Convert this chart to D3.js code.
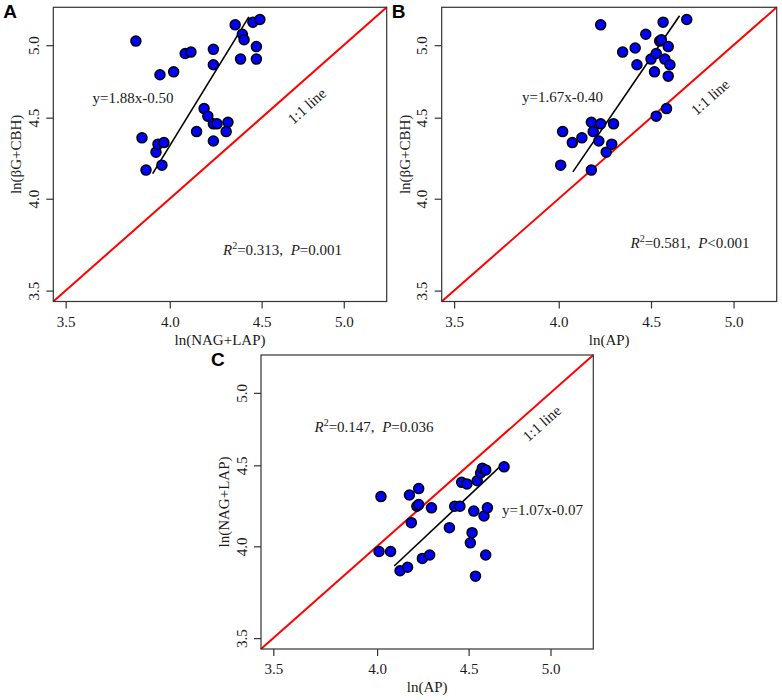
<!DOCTYPE html>
<html lang="en">
<head>
  <meta charset="UTF-8">
  <title>Enzyme ratio scatter plots</title>
  <script src="https://d3js.org/d3.v7.min.js"></script>
  <style>
    body {
      margin: 0;
      background: #fff;
    }
    svg text {
      font-family: "Liberation Serif", "Times New Roman", serif;
      fill: #1a1a1a;
    }
    .panel-letter {
      font-family: "Liberation Sans", Arial, sans-serif !important;
      font-weight: bold;
      font-size: 19px;
      fill: #000;
    }
    .point {
      fill: #0000ff;
      stroke: #000;
      stroke-width: 1.5;
    }
  </style>
</head>
<body>

  <svg width="782" height="700"></svg>

  <script>
    // axis limits (log axes, as in the original R plot) and tick values
    const axisLimits = [3.5, 5.2];
    const tickValues = [3.5, 4.0, 4.5, 5.0];

    // Panel A: ln(NAG+LAP) vs ln(BG+CBH)
    const nagLapA = [3.83, 3.86, 3.88, 3.93, 3.94, 3.97, 3.96, 3.95, 4.02, 4.08, 4.11, 4.23, 4.23, 4.14,
                     4.18, 4.20, 4.23, 4.25, 4.23, 4.31, 4.30, 4.35, 4.39, 4.40, 4.38, 4.45, 4.49, 4.47, 4.47];
    const bgCbhA  = [5.03, 4.37, 4.17, 4.28, 4.33, 4.34, 4.20, 4.79, 4.81, 4.94, 4.95, 4.97, 4.86, 4.41,
                     4.56, 4.51, 4.46, 4.46, 4.35, 4.47, 4.41, 5.15, 5.08, 5.04, 4.90, 5.17, 5.19, 4.99, 4.90];
    const fitA = [[3.913, 4.149], [4.427, 5.21]];

    // Panel B: ln(AP) vs ln(BG+CBH)
    const apB    = [4.22, 4.02, 4.01, 4.07, 4.12, 4.17, 4.17, 4.18, 4.21, 4.22, 4.25, 4.28, 4.29, 4.34, 4.41,
                    4.42, 4.47, 4.50, 4.52, 4.53, 4.55, 4.56, 4.58, 4.60, 4.61, 4.60, 4.57, 4.71, 4.53, 4.59];
    const bgCbhB = [5.15, 4.41, 4.20, 4.34, 4.37, 4.17, 4.47, 4.41, 4.35, 4.46, 4.28, 4.33, 4.46, 4.95, 4.98,
                    4.86, 5.08, 4.90, 4.81, 4.94, 5.03, 5.04, 4.90, 4.99, 4.86, 4.78, 5.17, 5.19, 4.51, 4.56];
    const fitB = [[4.073, 4.159], [4.667, 5.219]];

    // Panel C: ln(AP) vs ln(NAG+LAP)
    const apC     = [4.02, 4.01, 4.07, 4.12, 4.16, 4.17, 4.18, 4.21, 4.22, 4.22, 4.24, 4.28, 4.29, 4.39, 4.42,
                     4.45, 4.46, 4.49, 4.51, 4.53, 4.52, 4.54, 4.55, 4.57, 4.58, 4.60, 4.59, 4.61, 4.60, 4.71];
    const nagLapC = [4.30, 3.97, 3.97, 3.86, 3.88, 4.31, 4.14, 4.24, 4.25, 4.35, 3.93, 3.95, 4.23, 4.11, 4.24,
                     4.24, 4.39, 4.38, 4.02, 4.21, 4.08, 3.83, 4.40, 4.45, 4.48, 4.47, 4.18, 4.23, 3.95, 4.49];
    const fitC = [[4.089, 3.887], [4.682, 4.488]];

    const panels = [
      { letter: "A", xs: nagLapA, ys: bgCbhA, fit: fitA,
        xTitle: "ln(NAG+LAP)", yTitle: "ln(\u03b2G+CBH)",
        eq: "y=1.88x-0.50", r2: "0.313", p: "P", pVal: "=0.001",
        box: { left: 53.3, top: 7.3, right: 386.7, bottom: 301.5 },
        eqPos: [133, 103], r2Pos: [282.5, 255], linePos: [306.7, 106] },
      { letter: "B", xs: apB, ys: bgCbhB, fit: fitB,
        xTitle: "ln(AP)", yTitle: "ln(\u03b2G+CBH)",
        eq: "y=1.67x-0.40", r2: "0.581", p: "P", pVal: "<0.001",
        box: { left: 441.7, top: 7.3, right: 776.7, bottom: 301.5 },
        eqPos: [562.5, 102], r2Pos: [690, 248], linePos: [710, 97] },
      { letter: "C", xs: apC, ys: nagLapC, fit: fitC,
        xTitle: "ln(AP)", yTitle: "ln(NAG+LAP)",
        eq: "y=1.07x-0.07", r2: "0.147", p: "P", pVal: "=0.036",
        box: { left: 261, top: 355, right: 593.3, bottom: 649 },
        eqPos: [542.5, 515], r2Pos: [374, 431.5], linePos: [541.7, 423.3] }
    ];

    const svg = d3.select("svg");

    // R pads log axes by 4% of the range on each side
    const lg = axisLimits.map(Math.log);
    const pad = (lg[1] - lg[0]) * 0.04;
    const domain = [Math.exp(lg[0] - pad), Math.exp(lg[1] + pad)];

    panels.forEach(p => {
      const b = p.box;
      const x = d3.scaleLog().domain(domain).range([b.left, b.right]);
      const y = d3.scaleLog().domain(domain).range([b.bottom, b.top]);
      const g = svg.append("g");

      // 1:1 line
      g.append("line")
        .attr("x1", x(domain[0])).attr("y1", y(domain[0]))
        .attr("x2", x(domain[1])).attr("y2", y(domain[1]))
        .attr("stroke", "#ff0000")
        .attr("stroke-width", 2);

      // regression line
      g.append("line")
        .attr("x1", x(p.fit[0][0])).attr("y1", y(p.fit[0][1]))
        .attr("x2", x(p.fit[1][0])).attr("y2", y(p.fit[1][1]))
        .attr("stroke", "#000")
        .attr("stroke-width", 1.6);

      // points
      g.selectAll(".point")
        .data(p.xs.map((v, i) => [v, p.ys[i]]))
        .enter().append("circle")
        .attr("class", "point")
        .attr("cx", d => x(d[0]))
        .attr("cy", d => y(d[1]))
        .attr("r", 5);

      // box
      g.append("rect")
        .attr("x", b.left).attr("y", b.top)
        .attr("width", b.right - b.left).attr("height", b.bottom - b.top)
        .attr("fill", "none")
        .attr("stroke", "#333")
        .attr("stroke-width", 1.2);

      // axes
      const xAxis = g.append("g")
        .attr("transform", `translate(0,${b.bottom})`)
        .call(d3.axisBottom(x).tickValues(tickValues).tickFormat(d3.format(".1f")).tickSize(7));
      xAxis.select(".domain").remove();
      xAxis.selectAll("line").attr("stroke", "#333").attr("stroke-width", 1.2);
      xAxis.selectAll("text")
        .attr("y", 25).attr("dy", null)
        .style("font-size", "15px")
        .attr("fill", "#1a1a1a");

      const yAxis = g.append("g")
        .attr("transform", `translate(${b.left},0)`)
        .call(d3.axisLeft(y).tickValues(tickValues).tickFormat(d3.format(".1f")).tickSize(7));
      yAxis.select(".domain").remove();
      yAxis.selectAll("line").attr("stroke", "#333").attr("stroke-width", 1.2);
      yAxis.selectAll("text")
        .attr("x", null).attr("dy", null)
        .attr("text-anchor", "middle")
        .attr("transform", "translate(-14.5,0) rotate(-90)")
        .style("font-size", "15px")
        .attr("fill", "#1a1a1a");

      // axis titles
      g.append("text")
        .attr("x", (b.left + b.right) / 2)
        .attr("y", b.bottom + 43)
        .attr("text-anchor", "middle")
        .style("font-size", "15px")
        .text(p.xTitle);

      g.append("text")
        .attr("transform", `translate(${b.left - 32},${(b.top + b.bottom) / 2}) rotate(-90)`)
        .attr("text-anchor", "middle")
        .style("font-size", "15px")
        .text(p.yTitle);

      // panel letter
      g.append("text")
        .attr("class", "panel-letter")
        .attr("x", b.left - 50)
        .attr("y", b.top + 11)
        .text(p.letter);

      // regression equation
      g.append("text")
        .attr("x", p.eqPos[0]).attr("y", p.eqPos[1])
        .attr("text-anchor", "middle")
        .style("font-size", "15px")
        .text(p.eq);

      // R2 and P
      const t = g.append("text")
        .attr("x", p.r2Pos[0]).attr("y", p.r2Pos[1])
        .attr("text-anchor", "middle")
        .style("font-size", "15px");
      t.append("tspan").style("font-style", "italic").text("R");
      t.append("tspan").attr("dy", -6).style("font-size", "10px").text("2");
      t.append("tspan").attr("dy", 6).text("=" + p.r2 + ",\u00a0\u00a0");
      t.append("tspan").style("font-style", "italic").text(p.p);
      t.append("tspan").text(p.pVal);

      // 1:1 line label, parallel to the red line
      const ang = Math.atan2(y(domain[1]) - y(domain[0]), x(domain[1]) - x(domain[0])) * 180 / Math.PI;
      g.append("text")
        .attr("transform", `translate(${p.linePos[0]},${p.linePos[1]}) rotate(${ang})`)
        .attr("text-anchor", "middle")
        .attr("dy", "0.35em")
        .style("font-size", "15px")
        .text("1:1 line");
    });
  </script>

</body>
</html>
